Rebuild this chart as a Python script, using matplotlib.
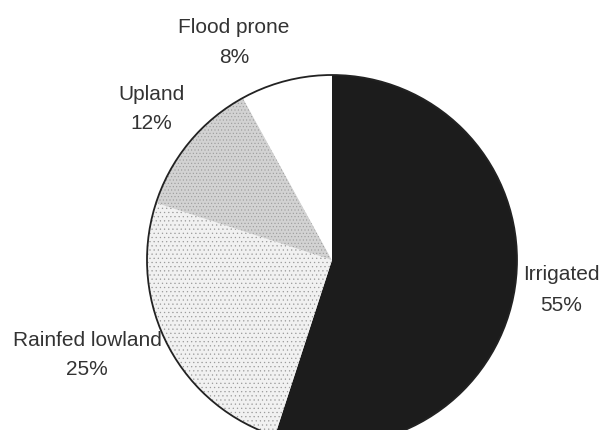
import matplotlib.pyplot as plt

# rice area by ecosystem (percent)
categories = ['Irrigated', 'Rainfed lowland', 'Upland', 'Flood prone']
shares = [55, 25, 12, 8]

face_colors = ['#1c1c1c', '#f1f1f1', '#d2d2d2', '#ffffff']
hatches = [None, '....', '.....', None]

# label anchors in data units (pie radius = 1): x, baseline of name, baseline of percent
label_pos = {
    'Irrigated': (1.238, -0.108, -0.276),
    'Rainfed lowland': (-1.324, -0.465, -0.622),
    'Upland': (-0.978, 0.865, 0.708),
    'Flood prone': (-0.530, 1.227, 1.065),
}

plt.rcParams['font.family'] = ['Liberation Sans', 'DejaVu Sans']
plt.rcParams['hatch.linewidth'] = 0.4
plt.rcParams['hatch.color'] = '#9a9a9a'

fig = plt.figure(figsize=(6.02, 4.30), dpi=100)
ax = fig.add_axes([0, 0, 1, 1])

wedges, _ = ax.pie(shares, startangle=90, counterclock=False, colors=face_colors,
                   radius=1.0, center=(0, 0),
                   wedgeprops=dict(linewidth=0))
for w, h in zip(wedges, hatches):
    if h:
        w.set_hatch(h)

# outer outline
circle = plt.Circle((0, 0), 1.0, fill=False, edgecolor='#222222', lw=1.3)
ax.add_patch(circle)

for name, val in zip(categories, shares):
    x, y1, y2 = label_pos[name]
    ax.text(x, y1, name, ha='center', va='baseline', fontsize=15, color='#333333')
    ax.text(x, y2, f"{val}%", ha='center', va='baseline', fontsize=15, color='#333333')

ax.set_xlim(-332 / 185, (602 - 332) / 185)
ax.set_ylim(-(430 - 260) / 185, 260 / 185)
ax.set_aspect('equal')
ax.axis('off')

fig.savefig('out.png', dpi=100, facecolor='white')
